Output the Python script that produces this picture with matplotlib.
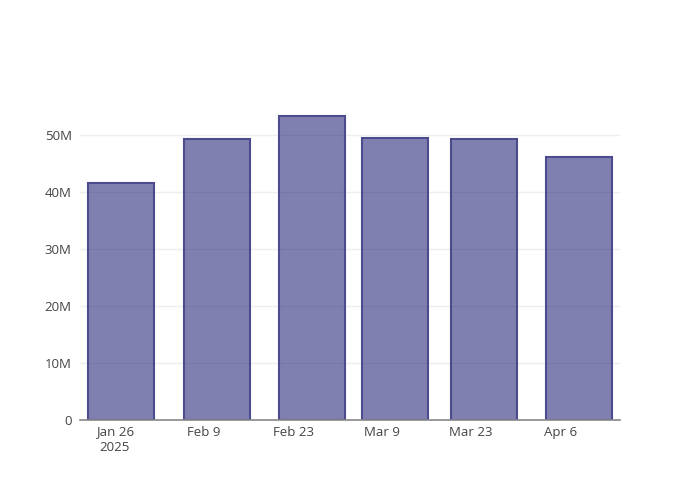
import numpy as np
import matplotlib.pyplot as plt
import matplotlib.dates as mdates
from matplotlib.ticker import FuncFormatter

plt.rcParams['font.family'] = ['Open Sans', 'DejaVu Sans']

# Data
dates = np.array(["2025-01-27", "2025-02-11", "2025-02-26", "2025-03-11",
                  "2025-03-25", "2025-04-09"], dtype="datetime64[D]")
values = [41.6e6, 49.3e6, 53.3e6, 49.5e6, 49.3e6, 46.1e6]

tick_dates = np.array(["2025-01-26", "2025-02-09", "2025-02-23", "2025-03-09",
                       "2025-03-23", "2025-04-06"], dtype="datetime64[D]")
tick_labels = ["Jan 26\n2025", "Feb 9", "Feb 23", "Mar 9", "Mar 23", "Apr 6"]

fig = plt.figure(figsize=(7, 5), dpi=100)
ax = fig.add_axes([80 / 700, 80 / 500, 540 / 700, 320 / 500])

x = mdates.date2num(dates.astype("datetime64[s]").astype(object))
bar_w = 13 * 0.8
ax.bar(x, values, width=bar_w, color="#191970", alpha=0.55, zorder=1)
ax.bar(x, values, width=bar_w, facecolor="none", edgecolor="#4b4b8e",
       linewidth=1.5, zorder=3)

for y in [10e6, 20e6, 30e6, 40e6, 50e6]:
    ax.axhline(y, color="#eeeeee", linewidth=1, zorder=0)

tx = mdates.date2num(tick_dates.astype("datetime64[s]").astype(object))
ax.set_xticks(tx)
ax.set_xticklabels(tick_labels)
ax.set_xlim(tx[0] - 5.5, tx[0] + 79.4)
ax.set_ylim(0, 56.1e6)
ax.set_yticks([0, 10e6, 20e6, 30e6, 40e6, 50e6])
ax.yaxis.set_major_formatter(FuncFormatter(lambda v, p: "0" if v == 0 else f"{int(v / 1e6)}M"))

for s in ["top", "right", "left"]:
    ax.spines[s].set_visible(False)
ax.spines["bottom"].set_color("#888888")
ax.spines["bottom"].set_linewidth(1.2)
ax.spines["bottom"].set_zorder(4)
ax.tick_params(axis="both", length=0, colors="#444444", labelsize=9.5)
ax.tick_params(axis="x", pad=4)
ax.tick_params(axis="y", pad=6)

fig.savefig("out.png", dpi=100)
